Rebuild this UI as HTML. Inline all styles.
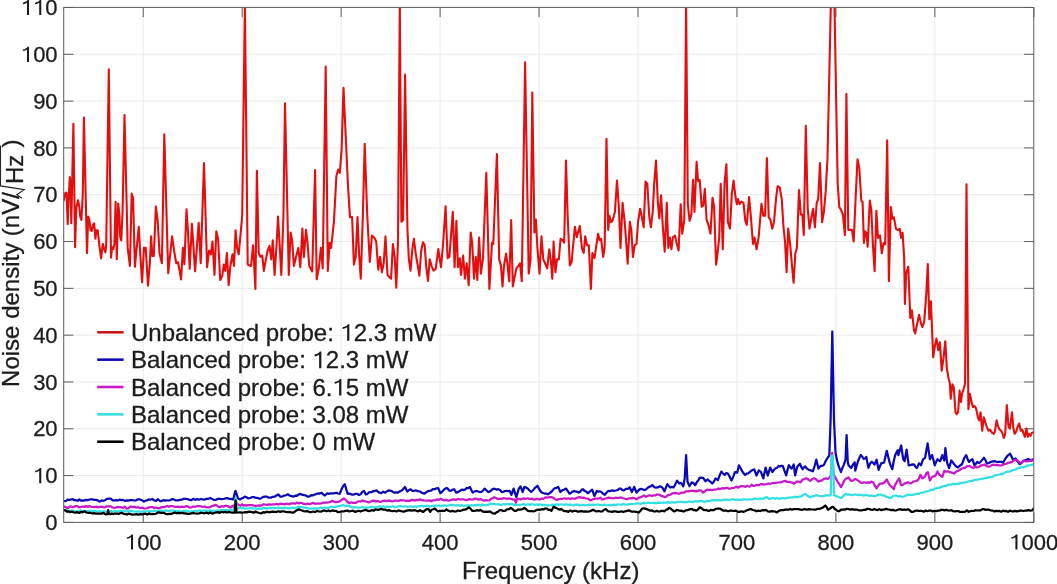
<!DOCTYPE html>
<html><head><meta charset="utf-8"><style>
html,body{margin:0;padding:0;background:#fff;}
svg{display:block;will-change:transform;}
text{font-family:"Liberation Sans",sans-serif;fill:#1c1c1c;stroke:#1c1c1c;stroke-width:0.3px;}
</style></head><body>
<svg width="1057" height="584" viewBox="0 0 1057 584">
<rect width="1057" height="584" fill="#fff"/>
<defs><clipPath id="pc"><rect x="63.7" y="7.4" width="970.0999999999999" height="515.0"/></clipPath></defs>
<g stroke="#ebebeb" stroke-width="1" fill="none"><line x1="143.25" y1="7.4" x2="143.25" y2="522.4"/><line x1="242.20" y1="7.4" x2="242.20" y2="522.4"/><line x1="341.15" y1="7.4" x2="341.15" y2="522.4"/><line x1="440.10" y1="7.4" x2="440.10" y2="522.4"/><line x1="539.05" y1="7.4" x2="539.05" y2="522.4"/><line x1="638.00" y1="7.4" x2="638.00" y2="522.4"/><line x1="736.95" y1="7.4" x2="736.95" y2="522.4"/><line x1="835.90" y1="7.4" x2="835.90" y2="522.4"/><line x1="934.85" y1="7.4" x2="934.85" y2="522.4"/><line x1="63.7" y1="475.59" x2="1033.8" y2="475.59"/><line x1="63.7" y1="428.78" x2="1033.8" y2="428.78"/><line x1="63.7" y1="381.97" x2="1033.8" y2="381.97"/><line x1="63.7" y1="335.16" x2="1033.8" y2="335.16"/><line x1="63.7" y1="288.35" x2="1033.8" y2="288.35"/><line x1="63.7" y1="241.54" x2="1033.8" y2="241.54"/><line x1="63.7" y1="194.73" x2="1033.8" y2="194.73"/><line x1="63.7" y1="147.92" x2="1033.8" y2="147.92"/><line x1="63.7" y1="101.11" x2="1033.8" y2="101.11"/><line x1="63.7" y1="54.30" x2="1033.8" y2="54.30"/></g>
<g stroke="#5c5c5c" stroke-width="1" fill="none"><line x1="143.25" y1="522.4" x2="143.25" y2="512.6999999999999"/><line x1="143.25" y1="7.4" x2="143.25" y2="17.1"/><line x1="242.20" y1="522.4" x2="242.20" y2="512.6999999999999"/><line x1="242.20" y1="7.4" x2="242.20" y2="17.1"/><line x1="341.15" y1="522.4" x2="341.15" y2="512.6999999999999"/><line x1="341.15" y1="7.4" x2="341.15" y2="17.1"/><line x1="440.10" y1="522.4" x2="440.10" y2="512.6999999999999"/><line x1="440.10" y1="7.4" x2="440.10" y2="17.1"/><line x1="539.05" y1="522.4" x2="539.05" y2="512.6999999999999"/><line x1="539.05" y1="7.4" x2="539.05" y2="17.1"/><line x1="638.00" y1="522.4" x2="638.00" y2="512.6999999999999"/><line x1="638.00" y1="7.4" x2="638.00" y2="17.1"/><line x1="736.95" y1="522.4" x2="736.95" y2="512.6999999999999"/><line x1="736.95" y1="7.4" x2="736.95" y2="17.1"/><line x1="835.90" y1="522.4" x2="835.90" y2="512.6999999999999"/><line x1="835.90" y1="7.4" x2="835.90" y2="17.1"/><line x1="934.85" y1="522.4" x2="934.85" y2="512.6999999999999"/><line x1="934.85" y1="7.4" x2="934.85" y2="17.1"/><line x1="1033.80" y1="522.4" x2="1033.80" y2="512.6999999999999"/><line x1="1033.80" y1="7.4" x2="1033.80" y2="17.1"/><line x1="63.7" y1="522.40" x2="73.4" y2="522.40"/><line x1="1033.8" y1="522.40" x2="1024.1" y2="522.40"/><line x1="63.7" y1="475.59" x2="73.4" y2="475.59"/><line x1="1033.8" y1="475.59" x2="1024.1" y2="475.59"/><line x1="63.7" y1="428.78" x2="73.4" y2="428.78"/><line x1="1033.8" y1="428.78" x2="1024.1" y2="428.78"/><line x1="63.7" y1="381.97" x2="73.4" y2="381.97"/><line x1="1033.8" y1="381.97" x2="1024.1" y2="381.97"/><line x1="63.7" y1="335.16" x2="73.4" y2="335.16"/><line x1="1033.8" y1="335.16" x2="1024.1" y2="335.16"/><line x1="63.7" y1="288.35" x2="73.4" y2="288.35"/><line x1="1033.8" y1="288.35" x2="1024.1" y2="288.35"/><line x1="63.7" y1="241.54" x2="73.4" y2="241.54"/><line x1="1033.8" y1="241.54" x2="1024.1" y2="241.54"/><line x1="63.7" y1="194.73" x2="73.4" y2="194.73"/><line x1="1033.8" y1="194.73" x2="1024.1" y2="194.73"/><line x1="63.7" y1="147.92" x2="73.4" y2="147.92"/><line x1="1033.8" y1="147.92" x2="1024.1" y2="147.92"/><line x1="63.7" y1="101.11" x2="73.4" y2="101.11"/><line x1="1033.8" y1="101.11" x2="1024.1" y2="101.11"/><line x1="63.7" y1="54.30" x2="73.4" y2="54.30"/><line x1="1033.8" y1="54.30" x2="1024.1" y2="54.30"/><line x1="63.7" y1="7.49" x2="73.4" y2="7.49"/><line x1="1033.8" y1="7.49" x2="1024.1" y2="7.49"/></g>
<g clip-path="url(#pc)" fill="none" stroke-width="2.25" stroke-linejoin="round" stroke-linecap="round"><path d="M63.8,200.2 L65.1,193.4 L66.5,192.5 L67.7,224.2 L68.9,194.2 L69.8,177.1 L70.6,185.7 L71.3,223.3 L73.4,123.8 L75.1,247.3 L76.3,207.9 L78.0,200.2 L79.2,206.2 L80.2,216.5 L81.4,219.9 L82.8,194.2 L83.9,117.6 L87.0,253.3 L88.2,216.5 L89.4,219.9 L90.5,230.2 L91.7,231.0 L92.9,225.0 L94.2,223.3 L95.4,238.7 L96.5,230.2 L97.7,230.2 L99.4,245.6 L101.1,258.4 L102.8,243.9 L104.2,249.0 L105.4,252.4 L106.2,245.6 L108.8,69.4 L111.0,257.6 L112.2,247.3 L113.4,249.0 L114.4,243.9 L115.6,201.9 L116.8,259.3 L118.2,203.6 L119.4,214.8 L120.2,237.0 L121.3,240.4 L122.6,211.3 L124.5,115.1 L127.7,247.9 L129.9,265.9 L131.7,193.6 L133.1,198.5 L134.9,266.8 L136.7,247.9 L138.8,226.7 L140.3,255.1 L142.1,282.1 L143.9,247.9 L145.7,247.9 L148.0,285.7 L149.8,264.1 L151.1,236.3 L152.3,256.0 L153.8,256.0 L155.9,206.6 L157.7,221.0 L159.5,253.3 L161.9,263.2 L164.3,134.3 L168.2,273.1 L172.1,236.3 L174.5,253.3 L176.3,263.2 L178.1,262.3 L181.1,279.4 L182.9,247.9 L184.4,264.1 L186.5,209.3 L187.9,230.0 L189.7,268.6 L191.9,223.7 L193.3,244.4 L195.1,271.3 L198.7,222.8 L200.7,263.3 L204.0,163.1 L207.1,267.2 L209.1,250.5 L210.9,254.3 L212.5,241.5 L214.5,274.9 L216.3,231.2 L218.1,238.9 L220.2,280.0 L222.2,276.1 L223.8,264.6 L225.3,271.0 L226.9,253.0 L228.7,285.1 L230.4,265.9 L232.5,254.3 L234.0,265.9 L235.6,230.4 L237.1,247.9 L238.7,254.3 L242.2,216.0 L244.9,4.0 L247.7,264.6 L251.0,265.9 L253.1,245.3 L255.4,289.0 L256.9,170.8 L258.7,253.0 L260.5,256.9 L262.3,255.6 L263.8,271.0 L265.9,259.4 L267.7,250.5 L269.5,245.8 L271.3,259.4 L272.8,240.2 L274.6,274.9 L276.7,242.7 L278.0,216.5 L279.8,247.9 L281.3,274.9 L283.4,217.1 L285.0,103.3 L288.8,274.9 L290.6,232.5 L292.1,240.2 L293.9,265.9 L295.7,258.2 L298.3,247.9 L300.3,267.2 L302.4,228.6 L303.9,256.9 L306.0,229.9 L307.5,242.7 L309.3,265.9 L312.2,271.4 L315.1,170.0 L316.7,279.2 L318.8,268.4 L320.9,247.9 L322.7,268.4 L325.7,66.5 L327.8,271.0 L329.6,242.7 L331.1,247.9 L333.9,222.2 L336.4,176.0 L338.2,169.5 L339.8,172.9 L341.6,150.3 L343.5,87.8 L348.0,186.2 L350.0,217.1 L352.1,217.1 L353.9,264.6 L355.7,256.9 L357.5,217.1 L359.0,253.0 L360.8,278.7 L362.9,214.5 L364.7,143.9 L367.2,214.5 L369.8,262.0 L371.9,235.6 L374.2,237.6 L376.2,241.5 L378.3,269.7 L380.1,256.9 L381.9,272.3 L383.7,263.3 L385.5,236.3 L387.5,274.9 L389.6,277.4 L391.1,278.7 L392.9,244.0 L394.7,256.9 L396.3,287.7 L398.0,241.4 L399.8,4.0 L401.4,221.7 L403.1,220.0 L405.1,74.5 L407.4,227.7 L408.8,258.6 L410.5,270.6 L412.6,246.6 L413.9,238.9 L415.7,253.4 L417.4,263.7 L419.4,275.7 L421.1,251.7 L422.9,242.3 L424.6,244.9 L426.3,267.1 L428.0,280.9 L429.7,259.4 L431.4,265.4 L433.5,270.6 L435.7,268.9 L438.3,249.1 L441.0,267.2 L443.0,245.3 L445.6,206.3 L447.6,258.2 L449.4,256.9 L452.8,211.9 L454.6,267.2 L456.4,220.9 L457.9,267.2 L459.7,258.2 L461.0,274.9 L463.1,255.6 L464.9,278.7 L466.7,263.3 L468.7,285.1 L470.7,232.5 L472.2,242.7 L474.0,278.7 L475.8,256.9 L477.3,280.0 L479.1,237.6 L480.9,273.6 L483.0,258.2 L486.3,172.9 L489.4,289.0 L492.0,242.7 L493.3,244.0 L496.9,154.1 L499.2,259.4 L501.0,265.9 L502.5,286.4 L504.0,265.9 L506.1,253.5 L507.6,265.9 L509.2,281.3 L511.2,220.1 L512.8,286.4 L514.8,276.1 L516.4,268.4 L518.4,265.9 L520.0,263.3 L521.8,281.3 L525.1,62.4 L528.7,273.6 L530.5,260.7 L532.3,92.5 L534.4,232.5 L535.9,219.6 L537.4,247.9 L539.5,273.6 L541.5,236.3 L543.3,259.4 L545.1,263.3 L547.2,268.4 L549.3,249.2 L551.1,263.3 L552.3,278.7 L553.6,241.5 L555.4,272.3 L557.0,259.4 L558.8,259.4 L560.6,238.9 L562.6,240.2 L564.2,242.7 L566.0,160.5 L567.7,217.1 L569.8,265.4 L571.6,262.0 L574.9,226.8 L576.7,237.1 L579.8,226.1 L581.9,247.9 L583.7,253.0 L585.2,236.3 L587.0,245.3 L588.8,245.3 L590.9,289.0 L592.4,253.0 L594.5,258.2 L596.0,247.9 L598.1,233.8 L599.6,240.2 L601.1,238.9 L603.2,256.9 L604.6,247.9 L606.5,138.7 L608.2,229.9 L609.5,215.8 L611.0,222.2 L612.8,220.1 L614.9,211.9 L617.0,180.6 L618.8,206.8 L620.5,247.9 L622.6,202.9 L624.7,222.2 L626.2,242.7 L627.7,263.8 L629.8,221.7 L631.3,229.9 L632.9,256.9 L634.7,245.3 L636.5,244.0 L638.0,222.2 L640.1,208.8 L641.9,217.1 L643.7,227.3 L645.5,181.6 L647.3,183.7 L649.3,217.1 L650.9,227.3 L652.7,211.9 L654.2,183.7 L656.0,160.5 L657.8,201.6 L659.3,218.3 L661.1,195.2 L662.7,224.8 L664.7,251.7 L666.8,202.9 L668.3,247.9 L669.9,237.6 L671.4,249.2 L673.0,237.1 L675.0,235.6 L676.5,242.7 L678.6,250.5 L680.7,204.2 L682.2,233.8 L684.3,219.6 L686.1,4.0 L687.8,204.2 L689.6,220.9 L691.4,214.5 L693.0,179.8 L694.5,211.9 L696.6,161.8 L698.1,181.1 L699.7,179.8 L701.7,206.8 L703.3,205.5 L704.8,188.8 L706.6,219.6 L708.4,224.8 L710.5,233.8 L712.5,197.8 L714.1,206.8 L716.1,264.6 L717.6,253.0 L719.2,237.6 L720.7,183.7 L722.8,249.2 L724.6,182.4 L726.4,164.4 L727.9,222.2 L730.0,228.6 L731.8,193.9 L733.6,180.6 L735.4,196.5 L736.9,204.2 L738.1,199.1 L739.6,204.2 L741.4,201.6 L743.5,202.9 L745.3,220.9 L746.8,224.8 L749.1,197.0 L750.9,217.1 L753.0,244.0 L754.5,237.6 L756.6,249.2 L758.6,237.6 L761.5,203.7 L763.3,215.8 L765.1,215.8 L766.9,158.0 L768.7,217.1 L770.4,219.6 L772.2,228.6 L774.0,222.2 L776.1,197.8 L777.6,186.2 L779.7,187.5 L781.8,199.1 L783.3,224.8 L785.1,242.7 L786.6,272.3 L788.2,228.6 L790.0,242.7 L792.0,265.9 L793.6,282.6 L795.4,253.0 L796.9,247.9 L799.0,190.1 L800.8,214.5 L802.3,214.5 L803.8,235.0 L805.8,125.9 L807.7,208.1 L809.5,228.6 L811.3,218.3 L813.1,208.8 L814.9,227.3 L816.7,202.9 L818.2,199.1 L820.0,163.1 L822.1,222.2 L823.9,211.9 L825.7,191.4 L827.5,158.0 L832.8,-87.0 L837.7,183.7 L839.3,207.3 L840.8,209.4 L842.9,214.5 L844.9,235.0 L846.4,93.8 L848.3,229.9 L850.1,229.9 L851.9,229.9 L853.7,241.5 L855.7,196.5 L857.5,159.3 L859.3,168.3 L861.3,200.6 L862.6,201.9 L863.9,243.0 L865.1,231.4 L866.4,232.7 L867.7,246.8 L869.8,200.6 L871.3,209.6 L872.8,243.0 L874.6,271.2 L876.4,210.9 L878.0,237.9 L880.0,235.3 L881.8,253.3 L883.6,243.0 L885.2,244.3 L887.2,140.3 L888.9,281.3 L890.8,207.0 L892.4,218.6 L893.9,217.3 L896.0,228.9 L898.0,230.2 L899.8,228.9 L901.1,237.9 L902.6,232.7 L904.2,258.4 L904.9,303.9 L906.2,273.1 L908.3,266.7 L910.3,318.1 L911.9,310.3 L913.9,329.6 L915.2,333.5 L917.0,324.5 L919.1,314.7 L920.9,323.2 L922.4,327.0 L924.2,321.9 L926.3,293.7 L927.8,264.1 L929.3,319.3 L930.9,301.4 L933.2,357.3 L935.0,345.0 L936.5,338.6 L938.3,350.2 L939.9,342.4 L941.7,370.7 L943.5,357.9 L945.3,341.2 L946.8,368.1 L948.6,378.4 L949.9,383.5 L950.7,398.8 L952.4,384.4 L953.8,387.5 L955.5,412.2 L956.7,414.2 L958.1,412.2 L959.6,390.6 L961.0,401.9 L962.1,393.7 L963.7,388.6 L965.1,383.4 L966.5,184.4 L968.4,409.1 L969.9,393.7 L971.5,401.9 L972.9,407.0 L974.6,406.0 L976.0,408.1 L977.7,416.3 L979.1,420.4 L980.5,412.2 L982.2,430.7 L983.8,417.3 L985.3,422.5 L986.7,426.6 L988.4,430.7 L990.0,429.7 L992.0,432.7 L993.7,433.8 L994.9,431.7 L996.6,420.4 L998.2,426.6 L999.7,429.7 L1001.1,430.7 L1002.3,432.7 L1003.8,437.9 L1005.2,433.8 L1006.8,405.0 L1008.5,426.6 L1009.9,428.6 L1012.0,412.2 L1013.4,428.6 L1014.6,433.8 L1016.1,431.7 L1017.7,426.6 L1019.2,423.5 L1020.8,430.7 L1022.3,429.7 L1023.7,433.8 L1024.9,436.8 L1026.4,428.6 L1027.8,436.8 L1029.0,433.8 L1030.5,435.8 L1031.9,432.7 L1034.0,432.3" stroke="#e40e0e" stroke-width="2.1"/><path d="M64.0,501.0 L65.8,501.1 L67.7,499.6 L69.5,500.0 L71.4,499.3 L72.9,499.2 L74.4,500.2 L75.9,500.2 L77.6,500.8 L79.3,499.3 L81.0,500.6 L82.7,500.4 L84.4,500.6 L86.1,499.8 L87.8,500.1 L89.5,499.5 L91.0,499.4 L92.5,499.3 L94.1,499.9 L95.9,499.9 L97.8,500.4 L99.7,501.6 L101.6,500.5 L103.5,500.8 L105.4,499.9 L107.1,498.8 L108.8,498.7 L110.7,498.7 L112.6,500.4 L114.5,500.4 L116.2,500.1 L117.9,500.5 L119.6,499.7 L121.3,500.2 L123.0,499.9 L124.7,500.9 L126.4,500.3 L128.1,500.7 L130.0,500.2 L131.9,500.0 L133.8,500.4 L135.7,500.5 L137.6,499.4 L139.5,499.3 L141.0,499.9 L142.5,500.6 L144.0,501.6 L145.5,500.6 L147.0,500.5 L148.5,499.5 L150.4,499.7 L152.3,499.0 L154.2,500.4 L156.1,500.8 L158.0,499.2 L159.9,501.0 L161.6,501.0 L163.3,500.2 L165.0,500.7 L166.7,500.4 L168.6,500.5 L170.5,500.1 L172.4,499.1 L174.1,499.5 L175.8,500.4 L177.9,500.3 L180.0,499.9 L181.9,499.7 L183.8,498.8 L185.7,498.8 L187.6,499.0 L189.5,499.9 L191.4,500.2 L193.2,498.8 L195.1,499.9 L197.0,499.1 L198.9,499.7 L200.8,499.0 L202.7,499.4 L204.6,499.6 L206.5,498.8 L208.4,498.8 L210.3,498.0 L212.2,499.1 L214.1,500.0 L215.9,499.8 L217.8,498.8 L219.7,498.8 L221.6,499.1 L223.5,499.0 L225.4,498.3 L227.3,498.1 L229.2,499.0 L231.1,498.8 L233.3,499.4 L235.0,492.0 L235.6,490.9 L236.5,493.5 L237.9,498.3 L240.2,499.4 L241.7,498.3 L243.2,497.9 L244.7,496.6 L246.4,497.2 L248.1,498.3 L250.0,498.0 L251.9,497.2 L253.8,497.1 L255.7,497.8 L257.6,497.9 L259.5,498.8 L261.3,498.2 L263.2,496.8 L265.1,496.6 L267.0,496.7 L268.9,497.7 L270.8,497.7 L272.7,496.8 L274.6,496.7 L276.5,495.4 L278.4,494.4 L280.3,496.7 L282.2,496.6 L284.0,495.5 L285.9,495.4 L287.8,494.3 L289.7,495.6 L291.6,496.1 L293.5,496.6 L295.1,495.6 L296.8,495.8 L298.4,494.7 L300.0,493.8 L302.0,494.7 L304.0,495.1 L306.0,495.5 L307.9,496.7 L309.6,496.3 L311.4,495.2 L313.1,495.4 L314.8,494.4 L316.5,494.1 L318.2,493.3 L319.9,493.6 L321.6,492.7 L323.3,494.6 L325.0,495.5 L326.9,493.4 L328.8,493.8 L330.6,493.3 L332.5,493.4 L334.4,493.3 L336.3,492.7 L338.0,493.5 L339.7,493.8 L342.0,488.2 L343.4,485.7 L344.8,484.2 L346.3,489.4 L347.7,493.8 L349.4,493.5 L351.1,494.4 L352.6,494.6 L354.1,494.5 L355.6,493.8 L357.3,493.8 L359.0,495.0 L360.7,494.2 L362.4,491.8 L364.1,491.0 L365.8,494.4 L367.3,494.1 L368.9,492.4 L370.4,492.1 L371.9,492.1 L373.4,491.0 L374.9,491.0 L376.4,490.3 L377.9,491.7 L379.5,492.7 L381.3,493.1 L383.2,491.7 L385.1,492.7 L386.8,491.4 L388.5,490.4 L390.0,490.7 L391.6,491.0 L393.1,492.1 L394.6,492.6 L396.1,492.4 L397.6,492.7 L399.3,491.6 L401.0,491.0 L403.0,489.3 L405.0,487.0 L407.3,491.6 L409.0,490.0 L410.7,489.3 L412.1,490.7 L413.5,491.0 L415.8,490.4 L417.9,491.2 L420.0,491.5 L421.5,492.6 L423.0,493.1 L424.5,493.7 L426.1,492.4 L427.6,491.4 L429.1,490.9 L431.0,490.7 L432.9,489.2 L434.8,489.2 L436.5,488.3 L438.2,488.1 L440.4,493.2 L442.3,491.6 L444.2,489.4 L446.1,488.1 L447.6,488.4 L449.1,490.5 L450.6,490.9 L452.3,489.8 L454.1,489.2 L456.3,492.6 L457.8,492.1 L459.3,491.3 L460.9,490.3 L462.4,489.6 L463.9,490.1 L465.4,489.2 L466.9,488.0 L468.4,488.2 L469.9,486.9 L471.4,490.2 L472.8,492.6 L474.8,491.3 L476.8,490.9 L478.3,491.6 L479.8,491.9 L481.3,492.0 L483.0,490.5 L484.7,488.6 L486.4,490.2 L488.1,492.0 L489.6,491.6 L491.1,490.5 L492.6,489.2 L494.5,488.7 L496.4,489.6 L498.3,489.2 L500.0,490.0 L501.7,492.0 L503.2,491.9 L504.8,491.0 L506.3,490.9 L508.0,491.1 L509.7,490.9 L511.4,494.9 L513.6,488.6 L516.3,497.1 L518.8,488.6 L520.5,486.4 L522.7,492.0 L524.4,486.9 L526.1,487.5 L527.8,488.6 L529.5,490.5 L531.2,492.0 L533.5,489.8 L535.5,487.3 L537.5,485.8 L539.3,489.4 L541.1,492.0 L542.8,493.0 L544.5,493.5 L546.2,493.5 L547.9,494.3 L549.8,493.0 L551.7,491.5 L553.6,489.2 L555.1,488.1 L556.6,487.8 L558.2,486.9 L560.4,492.0 L562.3,490.3 L564.2,489.6 L566.1,488.6 L567.8,491.1 L569.5,493.7 L571.0,493.0 L572.5,491.7 L574.1,490.9 L575.6,491.6 L577.1,491.7 L578.6,492.6 L580.1,491.8 L581.6,489.8 L583.1,489.2 L584.6,491.0 L586.2,491.5 L587.7,493.2 L589.2,492.2 L590.7,490.7 L592.2,489.8 L594.5,496.0 L596.8,490.9 L598.3,491.8 L599.8,491.3 L601.3,492.0 L603.0,493.6 L604.7,494.9 L606.4,492.7 L608.1,490.9 L610.0,491.2 L611.9,490.4 L613.8,490.9 L615.7,490.5 L617.6,490.0 L619.5,488.6 L621.0,488.7 L622.5,490.1 L624.0,490.3 L625.9,488.9 L627.8,488.8 L629.7,487.3 L631.9,492.0 L634.2,486.9 L636.5,492.6 L638.2,490.7 L639.9,489.2 L641.8,488.9 L643.7,489.8 L645.6,489.8 L647.3,488.2 L649.0,486.8 L650.7,486.4 L652.4,485.0 L654.6,487.5 L656.4,487.6 L658.2,487.1 L660.0,486.3 L662.3,487.5 L664.5,491.4 L666.0,487.3 L667.4,484.1 L668.8,485.9 L670.2,487.5 L671.9,486.9 L673.6,487.5 L675.3,484.4 L677.0,480.6 L679.3,483.5 L681.0,482.9 L683.3,486.3 L684.7,478.4 L686.1,455.1 L687.5,481.8 L689.5,486.3 L691.8,482.3 L693.5,483.2 L695.2,485.2 L696.7,482.3 L698.2,480.6 L699.7,477.8 L701.4,477.6 L703.1,477.8 L705.4,481.2 L707.7,479.5 L709.2,481.0 L710.7,481.9 L712.2,483.5 L713.9,481.5 L715.6,478.4 L717.9,480.1 L719.6,475.4 L721.3,471.6 L723.0,473.5 L724.7,475.0 L726.4,472.9 L728.1,473.8 L729.8,477.0 L731.5,480.6 L733.2,476.9 L734.9,472.1 L737.2,472.7 L738.9,465.3 L740.3,467.6 L741.7,470.4 L743.4,473.1 L745.1,475.0 L746.6,473.6 L748.2,473.5 L749.7,472.1 L751.2,470.8 L752.7,470.0 L754.2,469.3 L756.5,475.5 L758.8,470.4 L761.0,472.1 L763.3,478.4 L765.6,467.6 L767.8,475.5 L770.1,467.6 L772.4,472.1 L774.1,469.6 L775.8,468.2 L777.2,467.6 L778.6,465.9 L780.0,466.5 L781.4,465.8 L782.7,465.8 L784.5,470.8 L786.2,475.4 L787.5,469.9 L788.9,465.1 L790.3,467.4 L791.6,468.6 L793.7,464.5 L795.1,475.4 L797.1,467.2 L798.5,465.2 L799.9,463.8 L801.2,466.9 L802.6,469.2 L804.0,467.3 L805.3,466.5 L807.1,468.7 L808.8,469.9 L810.8,470.4 L812.9,471.3 L814.6,466.0 L816.3,459.7 L818.4,468.6 L819.7,466.7 L821.1,465.8 L822.5,465.8 L823.8,465.1 L825.5,461.4 L827.3,458.3 L829.3,455.5 L830.6,420.0 L832.3,331.5 L834.0,420.0 L835.5,452.8 L837.5,462.4 L839.2,467.6 L841.0,472.0 L842.3,468.2 L843.7,465.1 L845.5,459.7 L846.6,435.1 L847.8,462.4 L848.5,465.1 L849.9,466.8 L851.2,467.9 L852.9,464.7 L854.7,462.4 L855.3,470.6 L856.7,465.5 L858.1,461.0 L859.5,457.5 L860.8,454.9 L862.2,456.6 L863.6,459.0 L864.9,458.5 L866.3,456.9 L868.4,467.9 L870.1,463.6 L871.8,461.7 L873.2,463.0 L874.5,464.5 L876.6,459.7 L878.6,469.9 L880.0,466.0 L881.4,463.1 L882.7,463.1 L884.1,462.4 L885.5,456.3 L886.8,450.8 L888.2,456.7 L889.6,462.4 L891.0,466.3 L892.3,469.2 L893.7,461.3 L895.1,455.5 L896.4,452.3 L897.8,450.1 L898.4,455.1 L899.8,450.1 L901.2,445.5 L903.2,459.2 L904.6,461.2 L906.6,449.6 L908.7,465.3 L910.1,465.2 L911.4,464.7 L912.8,464.3 L914.2,464.7 L915.5,466.8 L916.9,468.1 L919.0,463.3 L921.0,465.3 L923.1,459.2 L925.1,457.8 L927.6,443.4 L929.9,459.2 L932.0,455.1 L933.4,459.8 L934.7,465.3 L936.1,462.1 L937.5,459.2 L938.8,460.5 L940.2,461.2 L942.3,455.1 L944.3,460.5 L945.4,448.2 L947.1,462.6 L949.1,468.1 L951.2,460.5 L952.5,461.9 L953.9,464.0 L956.0,466.3 L958.0,467.4 L960.1,465.5 L962.1,464.0 L964.2,458.1 L966.2,455.1 L967.6,458.9 L969.0,461.9 L970.7,460.2 L972.4,459.2 L974.5,465.3 L975.8,463.9 L977.2,461.9 L978.6,462.8 L979.9,462.6 L982.0,460.1 L984.0,457.8 L985.4,460.0 L986.8,463.3 L988.8,463.1 L990.9,461.9 L992.9,461.3 L995.0,461.2 L997.1,462.0 L999.1,461.9 L1001.2,461.9 L1003.2,462.6 L1004.6,459.9 L1006.0,457.8 L1008.0,455.3 L1010.1,453.7 L1011.4,456.3 L1012.8,459.2 L1014.2,459.2 L1015.5,458.5 L1017.6,461.5 L1019.7,464.0 L1021.7,462.7 L1023.8,460.5 L1025.8,460.2 L1027.9,459.2 L1029.2,459.4 L1030.6,460.5 L1032.1,460.5 L1033.6,459.2" stroke="#0a0ab4"/><path d="M64.0,506.7 L65.4,506.9 L66.8,507.8 L68.3,507.9 L69.8,506.5 L71.4,506.7 L72.9,507.1 L74.4,506.6 L75.9,506.1 L77.4,506.1 L78.9,507.3 L80.4,507.2 L82.2,506.5 L84.1,506.9 L85.9,506.1 L87.7,506.9 L89.5,506.1 L91.0,506.8 L92.5,507.0 L94.1,507.2 L95.9,506.6 L97.8,507.4 L99.7,507.0 L101.5,506.6 L103.4,507.3 L105.2,507.1 L107.0,506.3 L108.8,506.3 L110.7,506.3 L112.6,507.5 L114.5,507.8 L116.2,507.4 L117.9,506.9 L119.6,507.1 L121.3,507.2 L123.0,508.0 L124.7,506.6 L126.4,508.6 L128.1,508.4 L129.6,507.3 L131.1,506.5 L132.6,507.0 L134.5,506.7 L136.4,507.7 L138.3,507.2 L140.2,508.2 L142.1,507.6 L144.0,508.4 L145.7,508.5 L147.4,508.2 L149.1,507.3 L150.8,507.2 L152.5,507.1 L154.2,508.0 L155.9,507.5 L157.6,508.1 L159.6,508.2 L161.6,507.1 L163.6,507.2 L165.6,506.7 L167.3,505.9 L169.0,506.8 L170.7,506.0 L172.4,506.1 L174.3,506.7 L176.2,506.8 L178.1,506.7 L180.0,507.2 L181.9,506.7 L183.8,507.0 L185.7,506.2 L187.6,506.3 L189.5,507.5 L191.4,507.3 L193.2,506.5 L195.1,506.8 L197.0,506.2 L198.9,506.2 L200.8,506.4 L202.7,506.8 L204.6,506.5 L206.5,507.3 L208.4,507.3 L210.3,507.0 L212.2,505.9 L214.1,505.6 L215.9,504.8 L217.8,506.2 L219.7,507.3 L221.6,506.2 L223.5,506.7 L225.4,505.6 L227.3,506.0 L229.2,506.9 L231.1,507.3 L232.5,505.8 L233.9,507.0 L235.2,503.0 L235.7,499.5 L236.6,503.5 L239.0,505.1 L240.5,505.8 L242.1,504.2 L243.6,505.6 L245.1,505.2 L246.6,505.6 L248.1,505.1 L250.0,505.0 L251.9,505.1 L253.8,505.6 L255.7,505.8 L257.6,505.7 L259.5,505.4 L261.3,505.6 L263.2,504.4 L265.1,504.5 L267.0,504.8 L268.9,504.3 L270.8,504.7 L272.7,504.4 L274.6,504.4 L276.5,503.9 L278.4,504.5 L280.3,503.7 L282.2,503.9 L284.0,504.4 L285.9,503.7 L287.8,503.9 L289.7,504.1 L291.6,503.4 L293.5,503.4 L295.1,503.7 L296.8,502.6 L298.4,503.3 L300.0,502.9 L301.9,503.0 L303.8,503.9 L305.7,504.1 L307.6,503.7 L309.5,504.2 L311.4,503.5 L313.2,502.9 L315.1,503.8 L317.0,503.5 L318.9,503.7 L320.8,503.5 L322.7,502.9 L324.6,502.6 L326.5,502.7 L328.4,502.3 L330.3,502.0 L332.2,500.7 L334.1,501.8 L335.9,502.1 L337.8,502.0 L339.7,501.2 L341.7,499.9 L343.7,498.4 L345.7,499.9 L347.7,502.3 L349.6,503.1 L351.5,502.3 L353.3,502.9 L355.1,502.8 L356.8,502.3 L358.6,501.3 L360.5,501.5 L362.4,500.6 L364.3,501.1 L366.2,501.5 L368.1,502.3 L370.0,502.2 L371.9,500.8 L373.8,500.6 L375.7,501.6 L377.6,500.9 L379.5,501.8 L381.3,501.7 L383.2,500.8 L385.1,500.6 L387.0,501.1 L388.9,500.4 L390.8,501.2 L392.7,501.3 L394.6,500.6 L396.5,500.6 L398.4,500.9 L400.3,500.2 L402.2,500.4 L404.0,500.3 L405.9,501.0 L407.8,500.6 L409.7,501.0 L411.6,499.8 L413.5,500.1 L415.0,500.6 L416.5,499.8 L418.0,500.1 L420.0,499.4 L421.9,500.2 L423.8,500.4 L425.7,500.5 L427.6,500.5 L429.5,500.4 L431.4,501.1 L433.2,500.3 L435.1,500.1 L437.0,499.4 L438.9,499.9 L440.8,498.8 L442.7,500.0 L444.4,500.5 L446.1,499.7 L447.8,500.6 L449.5,500.5 L451.0,500.0 L452.5,499.6 L454.1,499.4 L455.9,499.9 L457.8,499.0 L459.7,499.4 L461.6,499.3 L463.5,499.3 L465.4,500.0 L467.3,500.1 L469.2,499.1 L471.1,499.4 L473.0,499.6 L474.9,498.5 L476.8,498.8 L478.6,499.8 L480.5,499.1 L482.4,500.0 L484.3,500.6 L486.2,500.1 L488.1,500.5 L489.6,500.3 L491.1,498.7 L492.6,498.3 L494.3,497.3 L496.0,498.1 L497.8,499.0 L499.5,498.8 L501.3,498.9 L503.2,498.2 L505.1,498.3 L507.0,499.0 L508.9,498.4 L510.8,498.8 L512.8,499.6 L514.8,499.4 L515.9,502.8 L517.0,499.1 L518.8,498.8 L520.5,499.3 L522.2,498.8 L524.0,498.4 L525.9,499.0 L527.8,498.3 L529.7,499.0 L531.6,498.6 L533.5,499.4 L535.0,499.6 L536.5,498.8 L538.0,499.1 L539.8,499.5 L541.6,498.5 L543.4,498.8 L545.4,497.3 L547.4,497.7 L549.4,497.0 L551.4,497.1 L553.2,497.7 L555.1,499.3 L557.0,500.0 L558.9,499.0 L560.8,498.8 L562.7,498.8 L564.6,498.2 L566.5,498.9 L568.4,498.3 L570.3,499.0 L572.2,498.2 L574.1,498.8 L575.9,498.4 L577.8,497.5 L579.7,497.1 L581.6,497.9 L583.5,497.6 L585.4,498.3 L586.9,498.5 L588.4,498.9 L589.9,500.0 L591.5,500.0 L593.0,499.1 L594.5,498.8 L596.0,498.5 L597.5,498.7 L599.0,498.3 L600.5,497.7 L602.1,499.4 L603.6,499.4 L605.1,498.5 L606.6,498.4 L608.1,497.7 L610.0,497.8 L611.9,498.2 L613.8,498.3 L615.7,497.7 L617.6,498.0 L619.5,497.7 L621.3,497.6 L623.2,498.2 L625.1,498.8 L627.0,499.2 L628.9,498.3 L630.8,498.3 L632.7,497.8 L634.6,498.2 L636.5,499.4 L638.4,497.9 L640.3,497.2 L642.2,496.6 L644.0,495.4 L645.9,496.8 L647.8,496.0 L649.7,495.3 L651.6,495.9 L653.5,495.4 L655.1,495.5 L656.8,494.6 L658.4,494.7 L660.0,494.8 L661.5,496.1 L663.0,496.1 L664.5,497.1 L666.1,496.8 L667.6,495.4 L669.1,494.8 L670.6,494.6 L672.1,493.5 L673.6,493.1 L675.1,492.9 L676.6,493.2 L678.2,493.7 L679.7,493.6 L681.2,492.6 L682.7,492.6 L684.2,492.6 L685.7,491.4 L687.2,491.4 L688.8,491.4 L690.3,490.9 L691.8,490.9 L693.3,490.6 L694.8,491.4 L696.3,490.9 L697.8,491.1 L699.3,490.3 L700.9,490.3 L703.1,492.6 L704.6,491.8 L706.2,490.1 L707.7,489.7 L709.2,490.1 L710.7,489.7 L712.2,490.3 L713.7,489.6 L715.2,489.7 L716.8,489.2 L718.3,488.5 L719.8,489.1 L721.3,488.6 L722.8,488.1 L724.3,488.6 L725.8,488.0 L727.3,487.8 L728.9,488.7 L730.4,488.6 L731.9,487.9 L733.4,488.0 L734.9,487.5 L736.4,486.7 L737.9,487.6 L739.5,486.9 L741.0,486.1 L742.5,486.2 L744.0,486.3 L745.5,486.9 L747.0,485.8 L748.5,486.3 L750.0,486.6 L751.6,484.7 L753.1,485.8 L754.6,485.9 L756.1,484.9 L757.6,485.2 L759.1,485.1 L760.6,484.2 L762.2,484.1 L763.7,484.6 L765.2,484.4 L766.7,484.1 L768.2,483.5 L769.7,484.0 L771.2,483.5 L772.8,483.0 L774.3,482.8 L775.8,482.9 L777.9,482.5 L780.0,482.3 L781.8,482.2 L783.7,481.1 L785.5,480.9 L787.3,481.9 L789.1,481.9 L791.0,482.3 L792.3,482.6 L793.7,483.6 L795.1,483.0 L796.4,481.6 L798.5,481.7 L800.5,482.3 L802.4,479.8 L804.2,479.1 L806.0,478.2 L808.1,479.3 L810.1,480.9 L812.2,479.0 L814.2,478.2 L816.3,479.5 L818.4,481.6 L820.2,480.8 L822.0,480.3 L823.8,478.8 L825.9,478.3 L827.9,478.8 L829.3,477.8 L830.7,476.1 L832.1,452.8 L833.7,474.7 L835.6,477.9 L837.5,481.6 L839.2,483.9 L841.0,487.1 L842.7,484.0 L844.4,480.2 L846.4,478.3 L848.5,477.5 L849.9,479.5 L851.2,480.9 L853.3,480.4 L855.3,478.8 L857.4,480.1 L859.5,481.6 L860.8,482.6 L862.2,482.9 L864.0,482.2 L865.8,482.8 L867.7,482.3 L869.5,482.8 L871.3,481.7 L873.2,482.3 L874.9,485.9 L876.6,488.4 L878.3,485.5 L880.0,483.6 L882.1,483.6 L884.1,482.9 L885.5,481.0 L886.8,479.5 L888.2,482.5 L889.6,485.0 L891.6,486.7 L893.7,489.1 L895.0,485.2 L897.1,481.4 L899.1,478.4 L901.2,485.2 L902.8,484.8 L904.4,483.6 L906.0,483.2 L907.8,482.2 L909.6,483.3 L911.4,483.2 L913.5,481.5 L915.5,481.1 L916.9,480.6 L918.3,479.7 L920.3,474.9 L922.4,478.4 L923.8,477.5 L925.1,476.3 L926.5,472.9 L927.9,472.2 L929.9,480.4 L932.0,477.0 L933.4,476.3 L934.7,476.3 L936.1,474.5 L937.5,471.5 L939.5,474.9 L940.9,475.8 L942.3,477.0 L944.3,470.8 L946.1,471.8 L948.0,471.2 L949.8,472.2 L951.8,472.6 L953.9,473.6 L956.0,471.8 L958.0,470.8 L959.8,470.0 L961.7,468.5 L963.5,468.1 L965.5,467.4 L967.6,466.0 L969.7,466.2 L971.7,467.4 L973.5,468.0 L975.4,466.8 L977.2,467.4 L979.0,467.0 L980.8,465.4 L982.7,465.3 L984.5,464.5 L986.3,465.7 L988.2,466.7 L990.0,466.5 L991.8,465.0 L993.6,464.7 L995.5,465.2 L997.3,464.8 L999.1,465.3 L1000.9,465.5 L1002.8,465.0 L1004.6,464.0 L1006.4,463.8 L1008.2,462.6 L1010.1,462.6 L1011.9,461.9 L1013.7,460.4 L1015.5,459.9 L1017.6,460.6 L1019.7,462.6 L1021.5,462.6 L1023.3,461.2 L1025.1,461.2 L1027.0,461.5 L1028.8,461.1 L1030.6,460.5 L1032.1,459.3 L1033.6,459.2" stroke="#c818c8"/><path d="M64.0,510.1 L65.8,510.1 L67.7,510.6 L69.5,511.1 L71.4,510.9 L73.2,510.6 L75.1,511.0 L77.0,511.3 L78.9,511.1 L80.8,510.5 L82.7,510.9 L84.6,510.8 L86.5,511.3 L88.4,510.9 L90.3,510.8 L92.2,510.8 L94.1,511.2 L95.9,511.0 L97.8,511.6 L99.7,511.0 L101.6,511.8 L103.5,511.2 L105.4,511.6 L107.3,511.3 L109.2,511.8 L111.1,511.0 L113.0,511.8 L114.9,511.1 L116.8,511.2 L118.6,511.4 L120.5,510.9 L122.4,511.7 L124.3,510.7 L126.2,511.7 L128.1,511.2 L130.0,510.8 L131.9,511.1 L133.8,511.5 L135.7,511.7 L137.6,511.3 L139.5,511.6 L141.3,511.7 L143.2,511.7 L145.1,511.3 L147.0,511.5 L148.9,511.1 L150.8,511.2 L152.7,511.5 L154.6,510.6 L156.5,511.3 L158.4,510.8 L160.3,510.6 L162.2,510.9 L164.0,511.0 L165.9,510.4 L167.8,511.2 L169.7,511.0 L171.6,510.3 L173.5,510.6 L175.1,511.0 L176.8,511.4 L178.4,510.8 L180.0,511.3 L181.9,511.7 L183.8,510.9 L185.7,510.8 L187.6,510.8 L189.5,511.8 L191.4,511.3 L193.2,511.6 L195.1,510.8 L197.0,511.5 L198.9,510.5 L200.8,510.7 L202.7,510.8 L204.6,510.3 L206.5,510.6 L208.4,511.2 L210.3,510.4 L212.2,511.1 L214.1,510.8 L215.9,511.0 L217.8,510.2 L219.7,510.9 L221.6,510.1 L223.5,510.1 L225.4,510.2 L227.4,510.5 L229.4,509.6 L231.4,510.0 L233.3,509.6 L234.7,509.1 L235.7,498.0 L236.8,509.1 L239.0,507.9 L240.8,508.2 L242.7,507.9 L244.5,508.7 L246.3,508.5 L248.1,508.5 L250.0,508.2 L251.9,508.1 L253.8,508.8 L255.7,508.2 L257.6,508.9 L259.5,508.5 L261.3,508.9 L263.2,508.0 L265.1,508.0 L267.0,508.7 L268.9,507.9 L270.8,508.1 L272.7,507.9 L274.6,508.2 L276.5,508.2 L278.4,507.7 L280.3,508.1 L282.2,507.9 L284.0,508.1 L285.9,507.7 L287.8,508.4 L289.7,508.3 L291.6,507.6 L293.5,507.9 L295.1,508.1 L296.8,507.6 L298.4,506.7 L300.0,506.9 L301.9,507.0 L303.8,507.8 L305.7,507.5 L307.6,508.4 L309.5,508.6 L311.4,508.6 L313.2,508.7 L315.1,508.2 L317.0,508.7 L318.9,508.6 L320.8,507.6 L322.7,508.0 L324.6,507.5 L326.5,507.8 L328.4,507.9 L330.3,507.1 L332.2,506.9 L334.1,506.9 L336.0,506.9 L337.9,505.9 L339.8,506.0 L341.8,505.4 L343.7,505.2 L345.5,506.1 L347.4,505.7 L349.2,506.1 L351.1,506.9 L353.0,507.5 L354.9,507.1 L356.8,507.5 L358.6,507.6 L360.5,507.7 L362.4,507.0 L364.3,507.7 L366.2,507.6 L368.1,507.5 L370.0,507.1 L371.9,506.9 L373.8,507.3 L375.7,507.2 L377.6,507.0 L379.5,506.3 L381.3,506.9 L383.2,506.2 L385.1,507.0 L387.0,506.6 L388.9,507.2 L390.8,506.9 L392.7,506.3 L394.6,507.1 L396.5,507.1 L398.4,506.2 L400.3,506.2 L402.2,506.3 L404.0,506.7 L405.9,506.3 L407.8,507.0 L409.7,506.6 L411.6,506.5 L413.5,506.9 L415.1,506.4 L416.8,506.9 L418.4,506.2 L420.0,506.2 L421.9,505.8 L423.8,506.5 L425.7,505.9 L427.6,505.8 L429.5,506.6 L431.4,506.2 L433.2,505.9 L435.1,505.6 L437.0,505.7 L438.9,505.6 L440.8,506.0 L442.7,505.6 L444.6,505.3 L446.5,505.9 L448.4,505.5 L450.3,504.8 L452.2,504.9 L454.1,505.1 L455.9,505.5 L457.8,505.1 L459.7,505.9 L461.6,505.1 L463.5,506.0 L465.4,505.6 L467.3,505.4 L469.2,505.6 L471.1,505.1 L473.0,505.5 L474.9,505.0 L476.8,505.1 L478.6,504.7 L480.5,505.5 L482.4,504.6 L484.3,505.2 L486.2,504.8 L488.1,505.1 L490.4,503.4 L492.2,504.1 L494.0,503.8 L495.8,504.5 L497.6,504.2 L499.5,504.7 L501.3,505.1 L503.2,504.0 L505.1,504.5 L507.0,503.7 L508.9,504.3 L510.8,503.9 L512.5,504.2 L514.2,504.9 L515.9,505.1 L518.0,504.8 L520.1,505.0 L522.2,504.5 L524.0,504.2 L525.9,505.0 L527.8,504.2 L529.7,504.9 L531.6,504.1 L533.5,504.5 L535.2,504.8 L537.0,504.4 L538.7,505.0 L540.5,504.4 L542.2,505.2 L543.9,504.8 L545.7,505.1 L547.6,505.4 L549.5,505.4 L551.4,505.1 L553.2,504.6 L555.1,505.3 L557.0,504.3 L558.9,505.0 L560.8,504.3 L562.7,504.5 L564.6,504.9 L566.5,504.2 L568.4,505.1 L570.3,504.4 L572.2,505.3 L574.1,505.1 L575.9,504.6 L577.8,504.6 L579.7,505.5 L581.6,505.2 L583.5,504.8 L585.4,505.1 L587.3,505.3 L589.2,504.6 L591.1,504.9 L593.0,504.6 L594.9,504.8 L596.8,504.5 L598.6,504.5 L600.5,505.2 L602.4,505.1 L604.3,504.6 L606.2,505.3 L608.1,505.1 L610.0,504.8 L611.9,505.2 L613.8,504.6 L615.7,505.1 L617.6,504.4 L619.5,504.5 L621.3,504.6 L623.2,504.0 L625.1,504.6 L627.0,504.6 L628.9,504.2 L630.8,503.9 L632.7,504.0 L634.6,503.9 L636.5,503.5 L638.4,503.3 L640.3,503.9 L642.2,503.4 L644.0,502.9 L645.9,503.3 L647.8,502.7 L649.7,502.8 L651.6,503.0 L653.5,502.8 L655.1,503.1 L656.8,503.1 L658.4,502.7 L660.0,502.8 L661.9,502.9 L663.8,502.5 L665.7,502.8 L667.6,502.1 L669.5,502.9 L671.4,502.2 L673.2,502.4 L675.1,502.7 L677.0,502.2 L678.9,501.9 L680.8,501.9 L682.7,502.2 L684.6,501.8 L686.5,502.3 L688.4,501.6 L690.3,501.5 L692.2,502.1 L694.1,501.6 L695.9,501.2 L697.8,501.7 L699.7,501.1 L701.6,500.9 L703.5,501.7 L705.4,501.6 L707.1,501.0 L708.8,501.2 L710.5,500.8 L712.2,499.9 L713.7,500.5 L715.2,499.9 L716.8,500.5 L718.6,499.9 L720.5,500.5 L722.4,499.9 L724.3,499.8 L726.2,499.5 L728.1,499.9 L730.0,500.2 L731.9,499.1 L733.8,499.4 L735.7,499.8 L737.6,499.5 L739.5,499.9 L741.3,499.9 L743.2,499.2 L745.1,499.4 L747.0,499.6 L748.9,499.3 L750.8,499.4 L752.7,499.5 L754.6,498.5 L756.5,498.8 L758.4,499.0 L760.3,498.4 L762.2,498.8 L763.7,498.7 L765.2,497.5 L766.7,497.1 L769.0,498.8 L770.5,498.7 L772.0,498.0 L773.5,498.2 L775.1,498.8 L776.8,498.0 L778.4,498.7 L780.0,498.7 L781.7,498.1 L783.4,498.1 L785.1,498.5 L786.8,498.0 L788.6,497.6 L790.3,497.5 L792.0,497.3 L793.7,497.3 L795.4,496.7 L797.1,497.3 L798.8,496.6 L800.5,496.6 L802.1,495.9 L803.7,494.5 L805.3,493.9 L806.9,495.3 L808.5,496.4 L810.1,497.3 L812.0,496.4 L813.8,496.2 L815.6,495.3 L817.4,495.2 L819.3,496.1 L821.1,496.0 L822.8,496.3 L824.5,495.8 L826.2,495.1 L827.9,495.3 L829.3,495.4 L830.7,495.3 L831.4,458.0 L832.1,455.5 L833.0,458.5 L834.1,495.3 L835.8,495.7 L837.5,496.6 L839.6,497.6 L841.6,498.0 L843.7,495.6 L845.8,493.9 L847.6,494.6 L849.4,494.4 L851.2,495.3 L853.1,494.7 L854.9,494.7 L856.7,494.6 L858.5,495.2 L860.4,494.7 L862.2,495.3 L864.0,495.4 L865.8,495.0 L867.7,495.3 L869.5,495.9 L871.3,495.5 L873.2,496.0 L874.8,496.1 L876.4,495.6 L878.1,494.8 L879.7,494.5 L881.4,494.6 L883.0,495.7 L884.7,495.7 L886.3,496.9 L887.9,496.8 L889.6,498.0 L891.4,497.6 L893.2,495.9 L895.0,495.5 L896.7,495.7 L898.4,496.6 L900.1,496.1 L901.8,496.8 L903.6,496.5 L905.3,495.9 L907.0,494.8 L908.7,494.8 L910.4,494.8 L912.1,494.9 L913.8,494.7 L915.5,494.1 L917.3,493.6 L919.0,493.9 L920.7,492.8 L922.4,492.7 L924.1,492.3 L925.8,491.5 L927.5,491.3 L929.2,490.7 L931.0,489.7 L932.7,490.1 L934.4,488.7 L936.1,488.6 L937.8,487.8 L939.5,487.8 L941.2,486.8 L942.9,486.6 L944.7,485.7 L946.4,485.9 L948.1,484.7 L949.8,484.5 L951.5,484.6 L953.2,483.7 L954.9,484.4 L956.6,483.8 L958.4,484.0 L960.1,482.8 L961.8,483.1 L963.5,482.5 L965.2,482.5 L966.9,482.0 L968.6,481.3 L970.3,481.1 L972.1,481.0 L973.8,480.2 L975.5,479.9 L977.2,479.7 L978.9,479.5 L980.6,478.8 L982.3,479.0 L984.0,478.4 L985.8,477.7 L987.5,477.9 L989.2,477.0 L990.9,477.0 L992.6,476.9 L994.3,475.5 L996.0,475.2 L997.7,474.9 L999.5,474.5 L1001.2,473.7 L1002.9,473.8 L1004.6,472.9 L1006.3,471.9 L1008.0,471.7 L1009.7,471.6 L1011.4,470.8 L1013.2,470.0 L1014.9,469.8 L1016.6,468.6 L1018.3,468.1 L1020.0,467.6 L1021.7,467.2 L1023.4,467.4 L1025.1,466.7 L1026.8,465.7 L1028.5,465.3 L1030.2,465.2 L1031.9,464.9 L1033.6,464.0" stroke="#34dfe2"/><path d="M64.0,510.1 L65.4,510.4 L66.8,511.6 L68.5,511.3 L70.2,512.3 L71.9,511.6 L73.6,512.3 L75.4,512.6 L77.3,512.2 L79.1,512.9 L80.9,511.9 L82.7,512.3 L84.6,511.3 L86.5,512.5 L88.4,512.9 L90.3,512.8 L92.2,513.5 L94.1,513.1 L95.9,513.7 L97.8,513.6 L99.7,513.5 L101.6,513.6 L103.5,512.9 L105.4,514.3 L107.4,514.1 L108.2,510.1 L109.0,514.1 L109.9,514.1 L111.6,513.7 L113.3,514.0 L115.1,513.5 L116.8,513.5 L118.5,514.0 L120.2,513.2 L121.9,512.9 L123.6,513.8 L125.3,514.1 L127.0,514.5 L128.7,513.7 L130.4,514.1 L132.4,514.6 L134.3,514.5 L136.3,514.2 L138.3,514.6 L140.2,514.1 L142.1,514.3 L144.0,513.8 L145.7,513.7 L147.4,514.5 L149.1,513.5 L150.8,514.1 L152.7,514.1 L154.6,514.0 L156.5,513.5 L158.4,512.3 L160.3,512.9 L162.2,512.9 L164.0,512.9 L165.9,514.0 L167.8,514.1 L169.7,513.9 L171.6,513.8 L173.5,512.9 L175.1,512.6 L176.7,513.3 L178.4,512.8 L180.0,513.1 L181.9,512.8 L183.8,513.4 L185.7,513.4 L187.6,513.9 L189.5,513.8 L191.4,513.4 L193.2,512.9 L195.1,513.5 L197.0,513.6 L198.9,513.5 L200.8,512.7 L202.7,513.0 L204.6,513.3 L206.5,512.6 L208.4,513.5 L210.3,512.5 L212.2,513.6 L214.1,513.0 L215.9,512.5 L217.8,512.1 L219.7,512.9 L221.6,511.8 L223.5,512.4 L225.4,511.9 L227.4,512.4 L229.4,512.0 L231.4,512.5 L233.3,512.5 L234.7,512.7 L235.6,500.5 L236.5,512.7 L237.9,512.5 L239.8,512.3 L241.7,512.6 L243.6,512.5 L245.1,512.1 L246.6,512.4 L248.1,511.9 L250.0,511.7 L251.9,512.2 L253.8,512.7 L255.7,511.5 L257.6,512.5 L259.5,513.0 L261.3,513.4 L263.2,512.2 L265.1,512.6 L267.0,511.7 L268.9,512.3 L270.8,511.9 L272.7,511.6 L274.6,511.9 L276.5,511.9 L278.4,511.3 L280.3,511.9 L282.2,511.3 L284.0,511.3 L285.9,512.0 L287.8,512.2 L289.7,511.9 L291.6,512.5 L293.5,512.5 L295.2,511.4 L296.9,510.2 L298.5,509.4 L300.0,509.7 L301.9,510.5 L303.8,511.1 L305.7,511.4 L307.6,511.2 L309.5,512.0 L311.4,512.0 L313.2,511.5 L315.1,512.0 L317.0,511.0 L318.9,511.5 L320.8,511.6 L322.7,510.9 L324.6,510.4 L326.5,511.3 L328.4,510.4 L330.3,511.3 L332.2,510.4 L334.1,510.9 L335.9,510.8 L337.8,512.1 L339.7,512.0 L341.6,511.3 L343.5,511.5 L345.4,510.9 L347.3,510.5 L349.2,511.5 L351.1,511.0 L353.0,510.7 L354.9,511.8 L356.8,511.4 L358.6,510.8 L360.5,511.5 L362.4,510.8 L364.3,510.2 L366.2,509.9 L368.1,510.9 L369.9,511.1 L371.7,510.2 L373.6,510.7 L375.4,509.5 L377.2,509.7 L378.7,509.9 L380.2,509.0 L381.7,509.2 L383.5,509.7 L385.4,509.7 L387.2,510.6 L389.0,510.1 L390.8,510.9 L392.7,511.1 L394.6,510.8 L396.5,511.4 L398.4,510.4 L400.3,510.9 L402.2,511.4 L404.0,511.6 L405.9,510.8 L407.8,510.3 L409.7,510.1 L411.6,510.6 L413.5,510.3 L415.0,510.2 L416.5,510.8 L418.0,511.4 L420.0,510.2 L421.7,511.4 L423.4,511.9 L425.1,510.2 L426.8,509.1 L428.5,509.2 L430.2,511.9 L431.7,509.7 L433.2,509.2 L434.8,508.5 L436.5,510.1 L438.2,511.3 L439.7,510.9 L441.2,510.8 L442.7,510.8 L444.6,510.9 L446.5,509.5 L448.4,510.8 L450.3,511.5 L452.2,510.8 L454.1,511.3 L455.9,511.5 L457.8,510.5 L459.7,510.8 L461.6,510.5 L463.5,509.7 L465.4,509.6 L467.1,508.7 L468.8,507.3 L470.5,508.6 L472.2,510.8 L473.7,510.8 L475.2,510.8 L476.8,510.2 L478.6,510.7 L480.5,509.9 L482.4,511.3 L484.3,511.8 L486.2,511.6 L488.1,511.9 L489.8,511.4 L491.5,512.5 L493.2,513.5 L494.9,513.6 L496.4,512.3 L497.9,511.7 L499.5,510.2 L501.3,510.2 L503.2,510.9 L505.1,510.8 L507.0,509.3 L508.9,509.2 L510.8,507.9 L512.5,509.1 L514.2,510.8 L516.1,510.9 L518.0,509.5 L519.9,509.6 L521.4,509.3 L522.9,509.0 L524.4,507.9 L526.1,509.2 L527.8,510.8 L529.7,511.2 L531.6,511.0 L533.5,511.3 L535.0,511.0 L536.5,510.0 L538.0,509.6 L540.2,509.8 L542.3,509.1 L543.8,509.3 L545.3,508.4 L546.8,508.5 L548.3,509.8 L549.8,509.8 L551.4,510.8 L553.6,506.8 L555.1,507.7 L556.6,508.1 L558.2,509.1 L559.7,509.6 L561.2,509.0 L562.7,510.2 L564.6,511.2 L566.5,511.1 L568.4,511.9 L570.3,510.4 L572.2,511.6 L574.1,510.8 L575.9,510.8 L577.8,511.7 L579.7,511.3 L581.6,511.1 L583.5,511.6 L585.4,511.3 L587.3,511.7 L589.2,511.3 L591.1,510.8 L593.0,509.7 L594.9,510.8 L596.8,511.3 L598.6,511.0 L600.5,511.5 L602.4,511.3 L604.1,509.7 L605.8,509.1 L608.1,511.3 L610.0,511.5 L611.9,511.8 L613.8,511.3 L615.7,511.3 L617.6,511.8 L619.5,511.9 L621.3,511.3 L623.2,512.0 L625.1,511.3 L627.0,510.8 L628.9,510.3 L630.8,511.3 L632.7,511.7 L634.6,511.6 L636.5,511.9 L638.8,512.5 L640.5,510.8 L642.2,508.5 L644.0,508.3 L645.9,508.8 L647.8,509.6 L649.7,510.6 L651.6,510.3 L653.5,511.3 L655.1,511.5 L656.8,510.9 L658.4,511.5 L660.0,511.3 L661.5,510.9 L663.0,510.9 L664.5,511.3 L666.1,509.7 L667.6,509.4 L669.1,507.9 L670.6,508.5 L672.1,509.8 L673.6,511.3 L675.1,511.2 L676.6,510.0 L678.2,510.2 L679.7,510.8 L681.2,510.6 L682.7,511.3 L684.2,511.4 L685.7,510.3 L687.2,510.2 L688.8,509.6 L690.3,509.2 L691.8,509.0 L693.3,510.1 L694.8,509.9 L696.3,510.7 L698.0,509.5 L699.7,507.3 L701.4,508.1 L703.1,509.6 L704.6,510.1 L706.2,510.0 L707.7,510.7 L709.2,510.9 L710.7,509.9 L712.2,510.2 L713.9,510.2 L715.6,508.8 L717.3,508.7 L719.0,508.5 L720.5,508.9 L722.1,510.1 L723.6,510.7 L725.1,510.5 L726.6,510.7 L728.1,511.3 L729.8,510.7 L731.5,510.6 L733.2,511.0 L734.9,510.7 L736.4,510.8 L737.9,511.9 L739.5,511.9 L741.3,511.3 L743.2,511.9 L745.1,511.3 L747.0,510.2 L748.9,509.6 L750.8,509.0 L752.7,510.0 L754.6,510.3 L756.5,511.3 L758.4,510.6 L760.3,511.0 L762.2,510.2 L764.0,510.3 L765.9,509.9 L767.8,511.3 L769.7,511.7 L771.6,511.1 L773.5,511.3 L775.2,511.5 L776.9,512.4 L778.5,511.2 L780.0,510.3 L781.7,510.1 L783.4,510.1 L785.1,509.6 L786.8,509.7 L788.6,509.7 L790.3,509.0 L792.0,509.7 L793.7,509.0 L795.4,509.0 L797.1,509.0 L798.8,509.1 L800.5,509.7 L802.3,509.8 L804.0,509.2 L805.7,509.4 L807.4,509.7 L809.1,509.2 L810.8,509.4 L812.5,509.5 L814.2,509.7 L816.0,509.6 L817.7,508.8 L819.4,508.8 L821.1,508.3 L823.2,507.4 L825.2,505.5 L826.6,507.1 L827.9,509.7 L830.0,508.5 L832.1,506.9 L833.4,507.1 L834.8,509.0 L836.2,509.8 L837.5,511.0 L839.4,511.0 L841.2,509.6 L843.0,509.7 L844.8,509.6 L846.7,508.9 L848.5,509.0 L850.2,509.7 L851.9,509.1 L853.6,509.7 L855.3,509.7 L857.1,509.7 L858.8,510.3 L860.5,510.3 L862.2,510.3 L863.9,509.7 L865.6,509.9 L867.3,508.8 L869.0,509.0 L870.8,509.6 L872.5,509.9 L874.2,509.0 L875.9,509.7 L877.6,510.1 L879.3,509.1 L881.0,510.1 L882.7,509.7 L884.5,509.3 L886.2,508.8 L887.9,509.5 L889.6,509.7 L891.3,510.1 L893.0,509.8 L894.7,510.5 L896.4,510.3 L898.5,509.5 L900.5,509.2 L902.3,509.9 L904.1,509.5 L906.0,509.9 L907.8,509.3 L909.6,510.1 L911.4,511.9 L913.3,511.9 L915.1,510.8 L916.9,510.5 L918.7,510.9 L920.6,510.9 L922.4,511.2 L924.1,511.6 L925.8,510.5 L927.5,511.2 L929.2,510.5 L931.0,510.6 L932.7,511.4 L934.4,510.9 L936.1,511.2 L937.8,510.7 L939.5,510.7 L941.2,509.8 L942.9,509.9 L944.7,510.4 L946.4,509.8 L948.1,510.6 L949.8,510.5 L951.5,510.2 L953.2,511.2 L954.9,511.3 L956.6,511.2 L958.4,511.1 L960.1,512.0 L961.8,511.9 L963.5,511.9 L965.2,511.6 L966.9,510.3 L968.6,511.8 L970.3,511.2 L972.1,510.8 L973.8,511.0 L975.5,510.2 L977.2,510.5 L978.9,510.4 L980.6,510.4 L982.3,509.2 L984.0,509.2 L985.8,509.9 L987.5,509.5 L989.2,509.9 L990.9,510.5 L992.6,510.6 L994.3,511.4 L996.0,510.8 L997.7,511.2 L999.5,510.9 L1001.2,511.7 L1002.9,510.7 L1004.6,511.2 L1006.3,510.9 L1008.0,511.8 L1009.7,510.7 L1011.4,511.2 L1013.2,511.5 L1014.9,510.9 L1016.6,511.4 L1018.3,511.2 L1020.0,510.6 L1021.7,510.7 L1023.4,511.0 L1025.1,510.5 L1026.8,510.7 L1028.6,510.2 L1030.3,510.7 L1032.0,510.5 L1033.6,508.5" stroke="#000000"/></g>
<g stroke="#5c5c5c" stroke-width="1" fill="none"><rect x="63.7" y="7.4" width="970.0999999999999" height="515.0"/></g>
<g fill="#1c1c1c" stroke="#1c1c1c" stroke-width="0.3"><text transform="translate(124.90,549.60) scale(1,1.0)" font-size="22"> 00</text><path stroke="none" d="M133.04,549.60 L133.04,534.42 L131.61,534.42 C130.73,535.96 128.86,536.84 126.88,537.17 L126.88,538.82 C128.53,538.60 130.07,538.05 130.99,537.28 L130.99,549.60Z"/><text transform="translate(223.85,549.60) scale(1,1.0)" font-size="22">200</text><text transform="translate(322.80,549.60) scale(1,1.0)" font-size="22">300</text><text transform="translate(421.75,549.60) scale(1,1.0)" font-size="22">400</text><text transform="translate(520.70,549.60) scale(1,1.0)" font-size="22">500</text><text transform="translate(619.65,549.60) scale(1,1.0)" font-size="22">600</text><text transform="translate(718.60,549.60) scale(1,1.0)" font-size="22">700</text><text transform="translate(817.55,549.60) scale(1,1.0)" font-size="22">800</text><text transform="translate(916.50,549.60) scale(1,1.0)" font-size="22">900</text><text transform="translate(1009.33,549.60) scale(1,1.0)" font-size="22"> 000</text><path stroke="none" d="M1017.47,549.60 L1017.47,534.42 L1016.04,534.42 C1015.16,535.96 1013.29,536.84 1011.31,537.17 L1011.31,538.82 C1012.96,538.60 1014.50,538.05 1015.42,537.28 L1015.42,549.60Z"/><text transform="translate(45.36,530.00) scale(1,1.0)" font-size="22">0</text><text transform="translate(33.13,483.19) scale(1,1.0)" font-size="22"> 0</text><path stroke="none" d="M41.27,483.19 L41.27,468.01 L39.84,468.01 C38.96,469.55 37.09,470.43 35.11,470.76 L35.11,472.41 C36.76,472.19 38.30,471.64 39.22,470.87 L39.22,483.19Z"/><text transform="translate(33.13,436.38) scale(1,1.0)" font-size="22">20</text><text transform="translate(33.13,389.57) scale(1,1.0)" font-size="22">30</text><text transform="translate(33.13,342.76) scale(1,1.0)" font-size="22">40</text><text transform="translate(33.13,295.95) scale(1,1.0)" font-size="22">50</text><text transform="translate(33.13,249.14) scale(1,1.0)" font-size="22">60</text><text transform="translate(33.13,202.33) scale(1,1.0)" font-size="22">70</text><text transform="translate(33.13,155.52) scale(1,1.0)" font-size="22">80</text><text transform="translate(33.13,108.71) scale(1,1.0)" font-size="22">90</text><text transform="translate(20.89,61.90) scale(1,1.0)" font-size="22"> 00</text><path stroke="none" d="M29.03,61.90 L29.03,46.72 L27.60,46.72 C26.72,48.26 24.85,49.14 22.87,49.47 L22.87,51.12 C24.52,50.90 26.06,50.35 26.99,49.58 L26.99,61.90Z"/><text transform="translate(20.89,15.09) scale(1,1.0)" font-size="22">  0</text><path stroke="none" d="M29.03,15.09 L29.03,-0.09 L27.60,-0.09 C26.72,1.45 24.85,2.33 22.87,2.66 L22.87,4.31 C24.52,4.09 26.06,3.54 26.99,2.77 L26.99,15.09Z"/><path stroke="none" d="M41.27,15.09 L41.27,-0.09 L39.84,-0.09 C38.96,1.45 37.09,2.33 35.11,2.66 L35.11,4.31 C36.76,4.09 38.30,3.54 39.22,2.77 L39.22,15.09Z"/></g>
<text transform="translate(550.75,578.60) scale(1,1.0)" font-size="24" text-anchor="middle">Frequency (kHz)</text>
<g transform="translate(19.3,385) rotate(-90)"><text transform="translate(-1.90,0.00) scale(1,1.0)" font-size="24">Noise density (nV/</text><path d="M186.8,2.6 L190.2,-2.5 L195.4,5.0 L199.1,-18.8 L239.5,-18.8" fill="none" stroke="#262626" stroke-width="1.1" stroke-linejoin="miter"/><text transform="translate(201.00,3.30) scale(1,1.0)" font-size="24">Hz</text><text transform="translate(237.60,0.00) scale(1,1.0)" font-size="24">)</text></g>
<g><line x1="97.2" y1="332.30" x2="123.6" y2="332.30" stroke="#c81515" stroke-width="2.55"/><text transform="translate(131.00,340.80) scale(1,1.0)" font-size="24">Unbalanced probe:  2.3 mW</text><g fill="#1c1c1c"><path stroke="none" d="M349.36,340.80 L349.36,324.24 L347.80,324.24 C346.84,325.92 344.80,326.88 342.64,327.24 L342.64,329.04 C344.44,328.80 346.12,328.20 347.13,327.36 L347.13,340.80Z"/></g><line x1="97.2" y1="359.65" x2="123.6" y2="359.65" stroke="#0a0ab4" stroke-width="2.55"/><text transform="translate(131.00,368.15) scale(1,1.0)" font-size="24">Balanced probe:  2.3 mW</text><g fill="#1c1c1c"><path stroke="none" d="M321.35,368.15 L321.35,351.59 L319.79,351.59 C318.83,353.27 316.79,354.23 314.63,354.59 L314.63,356.39 C316.43,356.15 318.11,355.55 319.12,354.71 L319.12,368.15Z"/></g><line x1="97.2" y1="387.00" x2="123.6" y2="387.00" stroke="#c818c8" stroke-width="2.55"/><text transform="translate(131.00,395.50) scale(1,1.0)" font-size="24">Balanced probe: 6. 5 mW</text><g fill="#1c1c1c"><path stroke="none" d="M341.36,395.50 L341.36,378.94 L339.80,378.94 C338.84,380.62 336.80,381.58 334.64,381.94 L334.64,383.74 C336.44,383.50 338.12,382.90 339.13,382.06 L339.13,395.50Z"/></g><line x1="97.2" y1="414.35" x2="123.6" y2="414.35" stroke="#34dfe2" stroke-width="2.55"/><text transform="translate(131.00,422.85) scale(1,1.0)" font-size="24">Balanced probe: 3.08 mW</text><line x1="97.2" y1="441.70" x2="123.6" y2="441.70" stroke="#000000" stroke-width="2.55"/><text transform="translate(131.00,450.20) scale(1,1.0)" font-size="24">Balanced probe: 0 mW</text></g>
</svg>
</body></html>
